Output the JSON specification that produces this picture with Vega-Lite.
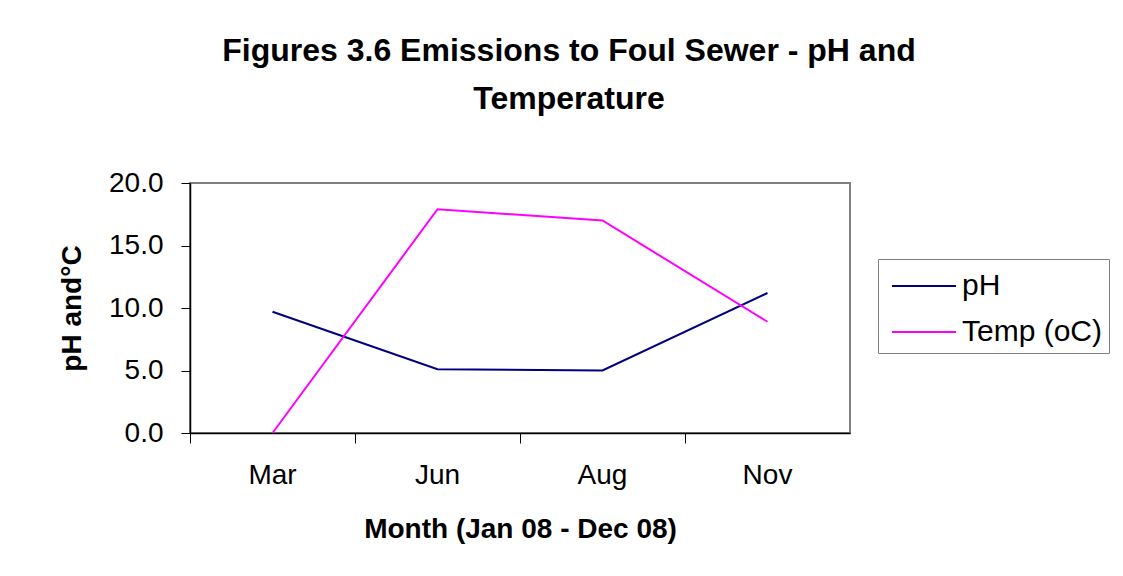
{
  "$schema": "https://vega.github.io/schema/vega-lite/v6.json",
  "width": 660,
  "height": 250,
  "autosize": {"type": "none"},
  "padding": {"left": 190, "top": 183, "right": 273, "bottom": 143},
  "background": "white",
  "title": {
    "text": ["Figures 3.6 Emissions to Foul Sewer - pH and", "Temperature"],
    "font": "Liberation Sans",
    "fontSize": 32,
    "fontWeight": "bold",
    "lineHeight": 48,
    "anchor": "middle",
    "dx": 49,
    "offset": 53,
    "color": "black"
  },
  "data": {
    "values": [
      {"month": "Mar", "series": "pH", "value": 9.7},
      {"month": "Jun", "series": "pH", "value": 5.1},
      {"month": "Aug", "series": "pH", "value": 5.0},
      {"month": "Nov", "series": "pH", "value": 11.2},
      {"month": "Mar", "series": "Temp (oC)", "value": 0.0},
      {"month": "Jun", "series": "Temp (oC)", "value": 17.9},
      {"month": "Aug", "series": "Temp (oC)", "value": 17.0},
      {"month": "Nov", "series": "Temp (oC)", "value": 8.9}
    ]
  },
  "mark": {"type": "line", "strokeWidth": 2},
  "encoding": {
    "x": {
      "field": "month",
      "type": "nominal",
      "sort": ["Mar", "Jun", "Aug", "Nov"],
      "scale": {"type": "band", "paddingInner": 0, "paddingOuter": 0},
      "axis": {
        "title": "Month (Jan 08 - Dec 08)",
        "titleFont": "Liberation Sans",
        "titleFontSize": 28,
        "titleFontWeight": "bold",
        "titleColor": "black",
        "titlePadding": 26,
        "labelFont": "Liberation Sans",
        "labelFontSize": 28,
        "labelColor": "black",
        "labelAngle": 0,
        "labelPadding": 18,
        "bandPosition": 0,
        "tickSize": 10,
        "tickColor": "black",
        "domainColor": "black",
        "domainWidth": 1.5,
        "grid": false
      }
    },
    "y": {
      "field": "value",
      "type": "quantitative",
      "scale": {"domain": [0, 20], "nice": false, "zero": true},
      "axis": {
        "title": "pH and°C",
        "titleFont": "Liberation Sans",
        "titleFontSize": 28,
        "titleFontWeight": "bold",
        "titleColor": "black",
        "titlePadding": 22,
        "labelFont": "Liberation Sans",
        "labelFontSize": 28,
        "labelColor": "black",
        "labelPadding": 18,
        "values": [0, 5, 10, 15, 20],
        "format": ".1f",
        "tickSize": 9,
        "tickColor": "black",
        "domainColor": "black",
        "domainWidth": 1.5,
        "grid": false
      }
    },
    "color": {
      "field": "series",
      "type": "nominal",
      "sort": ["pH", "Temp (oC)"],
      "scale": {"domain": ["pH", "Temp (oC)"], "range": ["#000080", "#FF00FF"]},
      "legend": {
        "title": null,
        "orient": "none",
        "legendX": 688,
        "legendY": 76,
        "padding": 6,
        "strokeColor": "#808080",
        "fillColor": "white",
        "symbolType": "M-1.6,0H1.6",
        "symbolSize": 1600,
        "symbolStrokeWidth": 2,
        "symbolOffset": 19,
        "labelFont": "Liberation Sans",
        "labelFontSize": 30,
        "labelColor": "black",
        "labelOffset": 17,
        "labelLimit": 300,
        "rowPadding": 10
      }
    }
  },
  "config": {
    "view": {"stroke": "#808080", "strokeWidth": 2}
  }
}
